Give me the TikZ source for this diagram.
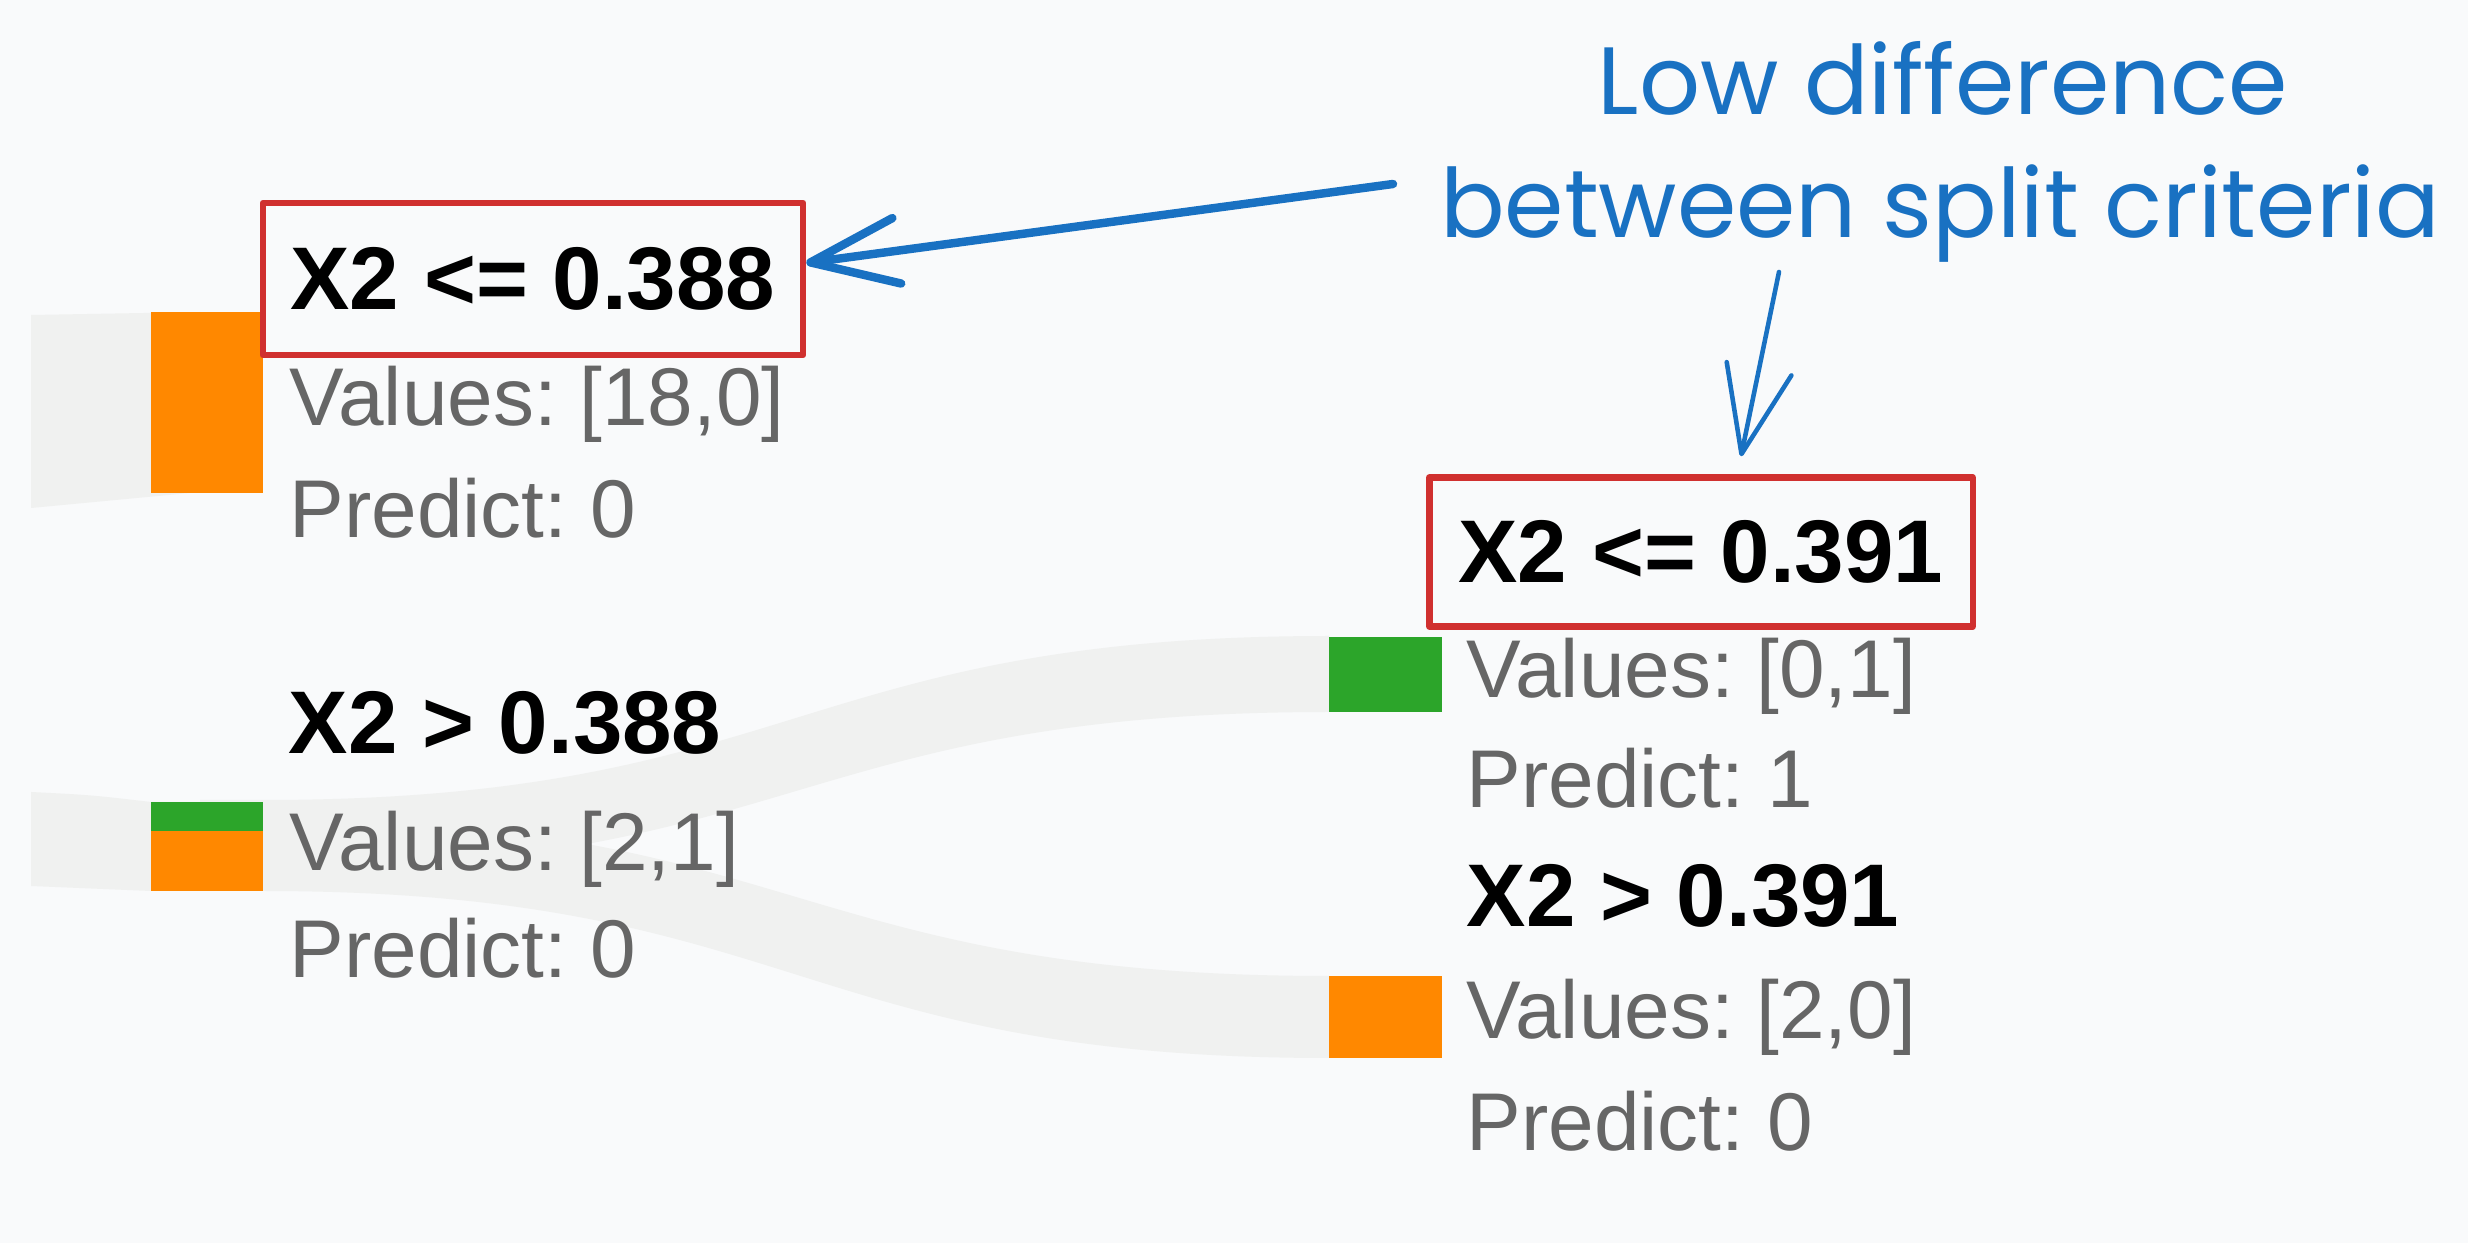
\documentclass[tikz,border=0pt]{standalone}
\usepackage{fontspec}
\setmainfont{Liberation Sans}
\newfontfamily\notefont{Poppins}
\usetikzlibrary{arrows.meta}
\frenchspacing

\definecolor{bgcol}{HTML}{F9FAFB}
\definecolor{linkgray}{HTML}{F0F1F0}
\definecolor{leaforange}{HTML}{FF8800}
\definecolor{leafgreen}{HTML}{2CA52A}
\definecolor{boxred}{HTML}{D0302F}
\definecolor{noteblue}{HTML}{1971C2}
\definecolor{valgray}{HTML}{666666}

\tikzset{
  splittext/.style={font=\fontsize{25.3}{30}\selectfont\bfseries, anchor=base west, inner sep=0pt},
  valtext/.style={font=\fontsize{23.3}{28}\selectfont, text=valgray, anchor=base west, inner sep=0pt},
  redbox/.style={draw=boxred, line width=1.8pt, line join=round, font=\fontsize{25.3}{30}\selectfont\bfseries, inner sep=0pt},
  notetext/.style={font=\notefont\fontsize{27.2}{33}\selectfont, text=noteblue, anchor=base, inner sep=0pt},
  pointer/.style={draw=noteblue, line cap=round, -{Straight Barb[length=8.7mm, width=6.6mm, round]}}
}

\begin{document}
\begin{tikzpicture}[x=0.01cm, y=-0.01cm]
  \fill[bgcol] (0,0) rectangle (2468,1243);
  \useasboundingbox (0,0) rectangle (2468,1243);

  \fill[linkgray] (31,315) -- (200,312) -- (200,492) -- (31,508) -- cycle;
  \fill[linkgray] (31,792) .. controls (91,795) .. (151,802) -- (200,802) -- (200,891) -- (151,891) .. controls (91,888) .. (31,886) -- cycle;
  \fill[linkgray] (200,800) -- (263,800) .. controls (796,800) and (796,636) .. (1329,636) -- (1329,712) .. controls (796,712) and (796,870) .. (263,870) -- (200,870) -- cycle;
  \fill[linkgray] (200,818) -- (263,818) .. controls (796,818) and (796,976) .. (1329,976) -- (1329,1058) .. controls (796,1058) and (796,891) .. (263,891) -- (200,891) -- cycle;

  \fill[leaforange] (151,312) rectangle (263,493);
  \fill[leafgreen] (151,802) rectangle (263,831);
  \fill[leaforange] (151,831) rectangle (263,891);
  \fill[leafgreen] (1329,637) rectangle (1442,712);
  \fill[leaforange] (1329,976) rectangle (1442,1058);

  \node[redbox, minimum width=5.4cm, minimum height=1.52cm] (box1) at (533,279) {X2 <= 0.388};
  \node[valtext] (val1) at (289,426) {Values: [18,0]};
  \node[valtext] (pred1) at (289,538) {Predict: 0};
  \node[splittext] (split2) at (288,754) {X2 > 0.388};
  \node[valtext] (val2) at (289,870) {Values: [2,1]};
  \node[valtext] (pred2) at (289,978) {Predict: 0};

  \node[redbox, minimum width=5.43cm, minimum height=1.49cm] (box2) at (1701,552) {X2 <= 0.391};
  \node[valtext] (val3) at (1466,698) {Values: [0,1]};
  \node[valtext] (pred3) at (1466,808) {Predict: 1};
  \node[splittext] (split4) at (1466,926) {X2 > 0.391};
  \node[valtext] (val4) at (1466,1038) {Values: [2,0]};
  \node[valtext] (pred4) at (1466,1150) {Predict: 0};

  \node[notetext] (note1) at (1943,115) {Low difference};
  \node[notetext] (note2) at (1940,238) {between split criteria};
  \coordinate (tail1) at (1393,184);
  \coordinate (tail2) at (1779,272);
  \draw[pointer, line width=2.4pt] (tail1) -- ([yshift=0.16cm]box1.east);
  \draw[pointer, line width=1.3pt] (tail2) -- ([xshift=0.4cm, yshift=0.18cm]box2.north);
\end{tikzpicture}
\end{document}
